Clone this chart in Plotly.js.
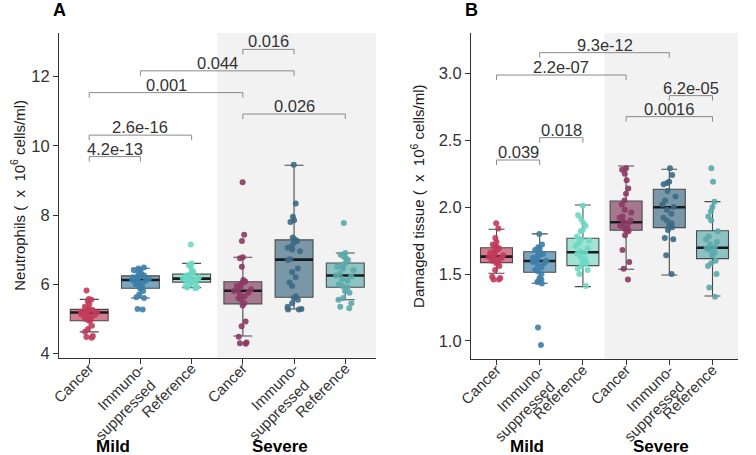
<!DOCTYPE html>
<html>
<head>
<meta charset="utf-8">
<script src="https://cdn.plot.ly/plotly-3.0.1.min.js"></script>
<style>
html,body{margin:0;padding:0;background:#ffffff;}
#chart{width:756px;height:455px;}
</style>
</head>
<body>
<div id="chart"></div>
<script>
// ---------- categories / labels ----------
const NB = '\u00A0';
const tickLabels = ['Cancer', 'Immuno-<br>suppressed' + NB, 'Reference', 'Cancer', 'Immuno-<br>suppressed' + NB, 'Reference'];
const severityLabels = ['Mild', 'Severe'];
const panelLabels = ['A', 'B'];
const pointColors = ['#C23B5B', '#3D7FAA', '#6CD8C3', '#8B3A64', '#3C6985', '#5BA8AB'];
const boxFills = ['#D57D90', '#7BA6C2', '#A0E3D4', '#A6788F', '#7A97A8', '#8EC3C3'];

// ---------- Panel A: Neutrophils ----------
const neutroMildCancer = [5.82,5.57,5.55,5.5,5.42,5.35,5.28,5.26,5.25,5.24,5.22,5.2,5.2,5.18,5.15,5.12,5.1,5.08,5.05,5.0,4.98,4.96,4.95,4.8,4.7,4.62,4.5,4.47,4.45];
const neutroMildImmuno = [6.48,6.45,6.42,6.4,6.35,6.3,6.25,6.24,6.22,6.2,6.18,6.16,6.14,6.12,6.1,6.06,6.03,6.0,5.95,5.9,5.87,5.8,5.7,5.62,5.6,5.28,5.27];
const neutroMildReference = [7.15,6.6,6.55,6.5,6.4,6.35,6.3,6.28,6.25,6.22,6.2,6.18,6.17,6.16,6.15,6.13,6.12,6.1,6.08,6.06,6.02,5.98,5.95,5.92,5.9,5.88];
const neutroSevereCancer = [8.95,7.43,7.25,6.78,6.75,6.5,6.12,6.08,6.05,6.0,5.95,5.9,5.85,5.82,5.8,5.75,5.7,5.65,5.6,5.55,5.45,5.38,4.92,4.78,4.48,4.31,4.29,4.28];
const neutroSevereImmuno = [9.45,8.33,7.95,7.85,7.8,7.35,7.3,7.25,7.2,7.1,7.05,7.0,6.95,6.72,6.7,6.45,6.35,6.2,6.05,5.95,5.65,5.6,5.55,5.45,5.35,5.28,5.27,5.27];
const neutroSevereReference = [7.77,6.9,6.85,6.8,6.75,6.7,6.6,6.55,6.5,6.45,6.4,6.3,6.25,6.22,6.15,6.1,6.0,5.95,5.9,5.8,5.75,5.6,5.55,5.45,5.35,5.3];
const neutroQ1 = [4.94, 5.88, 6.06, 5.43, 5.62, 5.91];
const neutroMedian = [5.18, 6.12, 6.16, 5.81, 6.71, 6.25];
const neutroQ3 = [5.27, 6.24, 6.29, 6.07, 7.28, 6.61];
const neutroLower = [4.62, 5.6, 5.9, 4.5, 5.28, 5.55];
const neutroUpper = [5.56, 6.46, 6.6, 6.78, 9.44, 6.9];
const neutroComparisons = [[0,1],[0,2],[0,3],[1,4],[3,4],[3,5]];
const neutroPvalues = ['4.2e-13', '2.6e-16', '0.001', '0.044', '0.016', '0.026'];
const neutroBracketY = [9.69, 10.31, 11.54, 12.17, 12.79, 10.92];
const neutroTicks = [4, 6, 8, 10, 12];

// ---------- Panel B: Damaged tissue ----------
const tissueMildCancer = [1.88,1.84,1.77,1.74,1.72,1.71,1.7,1.69,1.68,1.67,1.66,1.65,1.64,1.63,1.63,1.62,1.62,1.61,1.6,1.6,1.59,1.58,1.56,1.53,1.48,1.47,1.46,1.46];
const tissueMildImmuno = [1.8,1.72,1.7,1.69,1.68,1.67,1.66,1.65,1.64,1.63,1.62,1.61,1.6,1.6,1.59,1.58,1.57,1.55,1.53,1.52,1.5,1.47,1.46,1.45,1.44,1.43,1.1,0.97];
const tissueMildReference = [2.01,1.94,1.91,1.88,1.86,1.83,1.82,1.78,1.76,1.75,1.73,1.71,1.69,1.67,1.66,1.65,1.63,1.61,1.6,1.58,1.56,1.54,1.53,1.5,1.41];
const tissueSevereCancer = [2.29,2.28,2.25,2.2,2.14,2.1,2.05,2.02,1.98,1.96,1.93,1.92,1.9,1.89,1.88,1.86,1.85,1.84,1.83,1.82,1.79,1.68,1.59,1.54,1.46];
const tissueSevereImmuno = [2.29,2.24,2.19,2.18,2.17,2.12,2.08,2.05,2.02,2.0,1.98,1.95,1.92,1.9,1.88,1.86,1.85,1.83,1.77,1.76,1.64,1.5];
const tissueSevereReference = [2.29,2.19,2.04,2.0,1.97,1.93,1.9,1.82,1.78,1.76,1.74,1.72,1.7,1.69,1.68,1.66,1.64,1.6,1.58,1.56,1.5,1.4,1.33];
const tissueQ1 = [1.585, 1.513, 1.563, 1.827, 1.847, 1.615];
const tissueMedian = [1.63, 1.598, 1.663, 1.887, 1.999, 1.697];
const tissueQ3 = [1.697, 1.667, 1.767, 2.046, 2.133, 1.824];
const tissueLower = [1.506, 1.431, 1.406, 1.536, 1.493, 1.336];
const tissueUpper = [1.835, 1.80, 2.016, 2.307, 2.283, 2.041];
const tissueComparisons = [[0,1],[1,2],[0,3],[1,4],[3,5],[4,5]];
const tissuePvalues = ['0.039', '0.018', '2.2e-07', '9.3e-12', '0.0016', '6.2e-05'];
const tissueBracketY = [2.352, 2.519, 2.987, 3.154, 2.676, 2.833];
const tissueTicks = [1.0, 1.5, 2.0, 2.5, 3.0];

// ---------- build ----------
const FONT = 'Liberation Sans, Arial, sans-serif';
const W = 756, H = 455;
const BOXW = 0.74;
const unitText = '(' + NB + NB + 'x' + NB + NB + '10<sup>6</sup>' + NB + 'cells/ml)';

const panels = [
  {
    groups: [neutroMildCancer, neutroMildImmuno, neutroMildReference, neutroSevereCancer, neutroSevereImmuno, neutroSevereReference],
    q1: neutroQ1, med: neutroMedian, q3: neutroQ3, lf: neutroLower, uf: neutroUpper,
    comps: neutroComparisons, pvals: neutroPvalues, levels: neutroBracketY, ticks: neutroTicks,
    title: 'Neutrophils ' + unitText,
    xa: 'x', ya: 'y', xr: [-0.59, 5.6], yr: [3.873, 13.264],
    xdom: [59/W, 376/W], ydom: [1 - 357.7/H, 1 - 33/H],
    tip: 0.145, fmt: '', standoff: 2,
    mildX: 113/W, sevX: 280/W, labX: 59.5/W
  },
  {
    groups: [tissueMildCancer, tissueMildImmuno, tissueMildReference, tissueSevereCancer, tissueSevereImmuno, tissueSevereReference],
    q1: tissueQ1, med: tissueMedian, q3: tissueQ3, lf: tissueLower, uf: tissueUpper,
    comps: tissueComparisons, pvals: tissuePvalues, levels: tissueBracketY, ticks: tissueTicks,
    title: 'Damaged tissue ' + unitText,
    xa: 'x2', ya: 'y2', xr: [-0.59, 5.59], yr: [0.863, 3.301],
    xdom: [471/W, 738/W], ydom: [1 - 359.3/H, 1 - 33/H],
    tip: 0.037, fmt: '.1f', standoff: 10,
    mildX: 527/W, sevX: 660.5/W, labX: 471/W
  }
];

const traces = [];
const shapes = [];
const annotations = [];
const layout = {
  width: W, height: H,
  margin: {l: 0, r: 0, t: 0, b: 0},
  paper_bgcolor: '#ffffff',
  plot_bgcolor: 'rgba(0,0,0,0)',
  showlegend: false,
  font: {family: FONT, color: '#333333'},
  boxmode: 'overlay'
};

panels.forEach((p, pi) => {
  const axSuffix = pi === 0 ? '' : '2';
  p.groups.forEach((vals, i) => {
    traces.push({
      type: 'box', xaxis: p.xa, yaxis: p.ya,
      x: [i], q1: [p.q1[i]], median: [p.med[i]], q3: [p.q3[i]],
      lowerfence: [p.lf[i]], upperfence: [p.uf[i]],
      width: BOXW, boxpoints: false,
      fillcolor: boxFills[i],
      line: {color: '#4a4a4a', width: 1.1},
      hoverinfo: 'skip'
    });
    traces.push({
      type: 'box', xaxis: p.xa, yaxis: p.ya,
      x: [i], q1: [p.med[i]], median: [p.med[i]], q3: [p.med[i]],
      lowerfence: [p.med[i]], upperfence: [p.med[i]],
      width: BOXW, boxpoints: false,
      fillcolor: 'rgba(0,0,0,0)',
      line: {color: '#1a1a1a', width: 2.6},
      hoverinfo: 'skip'
    });
    traces.push({
      type: 'box', xaxis: p.xa, yaxis: p.ya,
      y: vals, x0: i, width: BOXW,
      boxpoints: 'all', jitter: 0.5, pointpos: 0,
      fillcolor: 'rgba(0,0,0,0)',
      line: {color: 'rgba(0,0,0,0)', width: 0},
      marker: {color: pointColors[i], size: 6, opacity: 0.9},
      hoverinfo: 'y'
    });
  });

  shapes.push({
    type: 'rect', layer: 'below', xref: p.xa, yref: p.ya + ' domain',
    x0: 2.5, x1: p.xr[1], y0: 0, y1: 1,
    fillcolor: '#F2F2F2', line: {width: 0}
  });

  p.comps.forEach((c, k) => {
    const a = c[0], b = c[1], yv = p.levels[k], yt = yv - p.tip;
    shapes.push({
      type: 'path', xref: p.xa, yref: p.ya,
      path: `M ${a},${yt} L ${a},${yv} L ${b},${yv} L ${b},${yt}`,
      line: {color: '#8a8a8a', width: 1}
    });
    annotations.push({
      xref: p.xa, yref: p.ya, x: (a + b) / 2, y: yv,
      text: p.pvals[k], showarrow: false, xanchor: 'center', yanchor: 'bottom', yshift: -3,
      font: {family: FONT, size: 16.5, color: '#333333'}
    });
  });

  annotations.push({
    xref: 'paper', yref: 'paper', x: p.mildX, y: 1 - 446.5/H,
    xanchor: 'center', yanchor: 'middle',
    text: '<b>' + severityLabels[0] + '</b>', showarrow: false,
    font: {family: FONT, size: 17, color: '#000000'}
  });
  annotations.push({
    xref: 'paper', yref: 'paper', x: p.sevX, y: 1 - 446.5/H,
    xanchor: 'center', yanchor: 'middle',
    text: '<b>' + severityLabels[1] + '</b>', showarrow: false,
    font: {family: FONT, size: 17, color: '#000000'}
  });
  annotations.push({
    xref: 'paper', yref: 'paper', x: p.labX, y: 1 - 9.5/H,
    xanchor: 'center', yanchor: 'middle',
    text: '<b>' + panelLabels[pi] + '</b>', showarrow: false,
    font: {family: FONT, size: 18, color: '#000000'}
  });

  layout['xaxis' + axSuffix] = {
    domain: p.xdom, anchor: p.ya, range: p.xr, type: 'linear',
    tickvals: [0, 1, 2, 3, 4, 5], ticktext: tickLabels, tickangle: -45,
    tickfont: {family: FONT, size: 15, color: '#333333'},
    ticklabelstandoff: -10,
    showline: true, linecolor: '#333333', linewidth: 1.1,
    ticks: 'outside', ticklen: 5, tickcolor: '#333333', tickwidth: 1,
    showgrid: false, zeroline: false, fixedrange: true
  };
  layout['yaxis' + axSuffix] = {
    domain: p.ydom, anchor: p.xa, range: p.yr,
    tickvals: p.ticks, tickformat: p.fmt,
    tickfont: {family: FONT, size: 16.5, color: '#333333'},
    showline: true, linecolor: '#333333', linewidth: 1.1,
    ticks: 'outside', ticklen: 5, tickcolor: '#333333', tickwidth: 1,
    showgrid: false, zeroline: false, fixedrange: true,
    title: {text: p.title, font: {family: FONT, size: 15, color: '#1a1a1a'}, standoff: p.standoff}
  };
});

layout.shapes = shapes;
layout.annotations = annotations;

Plotly.newPlot('chart', traces, layout, {displayModeBar: false, staticPlot: true});
</script>
</body>
</html>
